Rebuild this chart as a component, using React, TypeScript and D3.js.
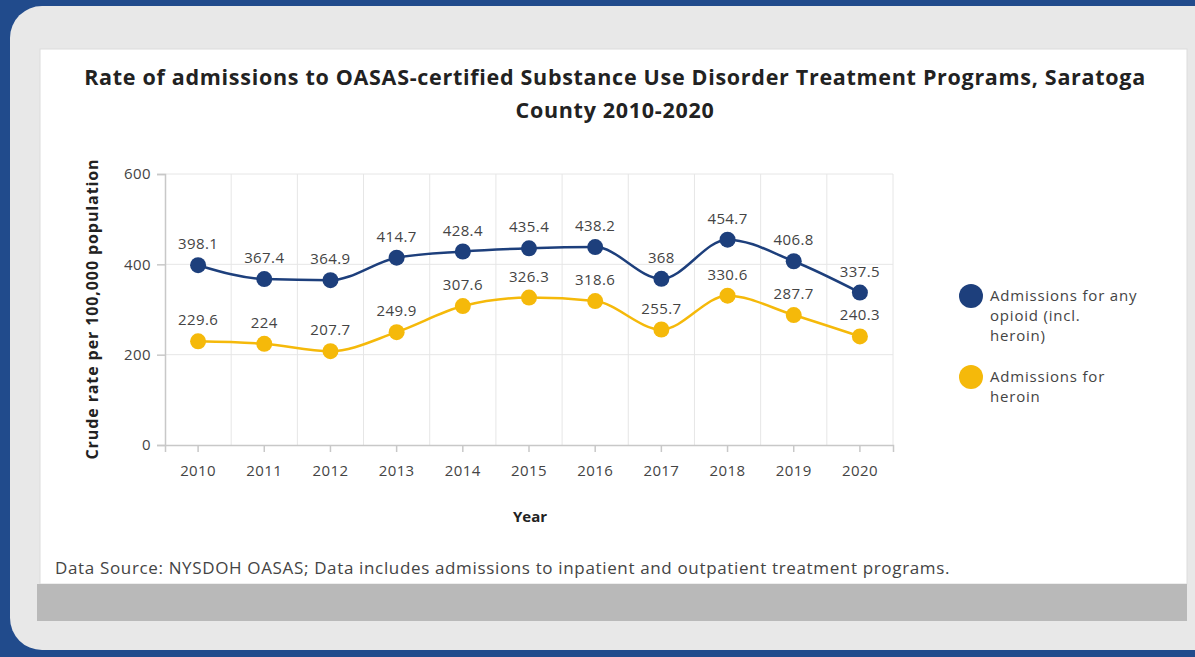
import React, { useEffect, useRef } from 'react';
import * as d3 from 'd3';

const years = ['2010', '2011', '2012', '2013', '2014', '2015', '2016', '2017', '2018', '2019', '2020'];
const anyOpioid = [398.1, 367.4, 364.9, 414.7, 428.4, 435.4, 438.2, 368, 454.7, 406.8, 337.5];
const heroin = [229.6, 224, 207.7, 249.9, 307.6, 326.3, 318.6, 255.7, 330.6, 287.7, 240.3];
const yTicks = [0, 200, 400, 600];
const seriesNames = [['Admissions for any', 'opioid (incl.', 'heroin)'], ['Admissions for', 'heroin']];
const seriesColors = ['#1d3f7c', '#f5b90a'];

const FONT = '"Open Sans", sans-serif';

export default function App() {
  const svgRef = useRef<SVGSVGElement>(null);

  useEffect(() => {
    if (!svgRef.current) return;
    const W = 1195, H = 657;
    const svg = d3.select(svgRef.current);
    svg.selectAll('*').remove();

    // page frame
    svg.append('rect').attr('width', W).attr('height', H).attr('fill', '#214b8c');
    svg.append('rect').attr('x', 10).attr('y', 6).attr('width', W + 40).attr('height', 644)
      .attr('rx', 32).attr('fill', '#e8e8e8');
    svg.append('rect').attr('x', 40).attr('y', 49).attr('width', 1147).attr('height', 535)
      .attr('fill', '#fff').attr('stroke', '#dcdcdc');
    svg.append('rect').attr('x', 37).attr('y', 584).attr('width', 1150).attr('height', 37)
      .attr('fill', '#b9b9b9');

    // title
    const title = svg.append('text').attr('text-anchor', 'middle').attr('fill', '#222')
      .style('font-family', FONT).style('font-weight', 700).style('font-size', '21.5px')
      .style('letter-spacing', '0.7px');
    title.append('tspan').attr('x', 615).attr('y', 85)
      .text('Rate of admissions to OASAS-certified Substance Use Disorder Treatment Programs, Saratoga');
    title.append('tspan').attr('x', 615).attr('y', 118).text('County 2010-2020');

    const left = 165, right = 893, top = 174, bottom = 445;
    const x = d3.scaleBand().domain(years).range([left, right]).padding(0);
    const y = d3.scaleLinear().domain([0, 600]).range([bottom, top]);
    const cx = (d: string) => (x(d) || 0) + x.bandwidth() / 2;

    // grid
    const g = svg.append('g');
    g.selectAll('.hg').data(yTicks.slice(1)).enter().append('line')
      .attr('x1', left).attr('x2', right).attr('y1', d => y(d)).attr('y2', d => y(d))
      .attr('stroke', '#e6e6e6');
    g.selectAll('.vg').data(years).enter().append('line')
      .attr('x1', (d, i) => left + (i + 1) * x.bandwidth()).attr('x2', (d, i) => left + (i + 1) * x.bandwidth())
      .attr('y1', top).attr('y2', bottom).attr('stroke', '#e6e6e6');

    // axes
    const yAxis = svg.append('g').attr('transform', `translate(${left},0)`)
      .call(d3.axisLeft(y).tickValues(yTicks).tickSize(8).tickPadding(6));
    const xAxis = svg.append('g').attr('transform', `translate(0,${bottom})`)
      .call(d3.axisBottom(x).tickSize(7).tickPadding(13));
    [yAxis, xAxis].forEach(a => {
      a.select('.domain').attr('stroke', '#c8c8c8').attr('stroke-width', 1.5);
      a.selectAll('.tick line').attr('stroke', '#c8c8c8').attr('stroke-width', 1.5);
      a.selectAll('text').attr('fill', '#444').style('font-family', FONT).style('font-size', '15px')
        .style('letter-spacing', '0.4px');
    });

    svg.append('text').attr('x', 530).attr('y', 522).attr('text-anchor', 'middle')
      .attr('fill', '#222').style('font-family', FONT).style('font-weight', 700).style('font-size', '15px')
      .text('Year');
    svg.append('text').attr('transform', `translate(98,309) rotate(-90)`).attr('text-anchor', 'middle')
      .attr('fill', '#222').style('font-family', FONT).style('font-weight', 700).style('font-size', '16px')
      .style('letter-spacing', '0.9px')
      .text('Crude rate per 100,000 population');

    // series
    const line = d3.line<number>().x((d, i) => cx(years[i])).y(d => y(d)).curve(d3.curveMonotoneX);
    [heroin, anyOpioid].forEach((vals, k) => {
      const color = seriesColors[1 - k];
      svg.append('path').datum(vals).attr('d', line).attr('fill', 'none')
        .attr('stroke', color).attr('stroke-width', 2.5);
      svg.selectAll(`.pt${k}`).data(vals).enter().append('circle')
        .attr('cx', (d, i) => cx(years[i])).attr('cy', d => y(d)).attr('r', 8).attr('fill', color);
      svg.selectAll(`.lb${k}`).data(vals).enter().append('text')
        .attr('x', (d, i) => cx(years[i])).attr('y', d => y(d) - 16).attr('text-anchor', 'middle')
        .attr('fill', '#444').style('font-family', FONT).style('font-size', '15px')
        .style('letter-spacing', '0.4px')
        .text(d => String(d));
    });

    // legend
    const legendY = [296, 377];
    seriesNames.forEach((lines, k) => {
      svg.append('circle').attr('cx', 971).attr('cy', legendY[k]).attr('r', 12).attr('fill', seriesColors[k]);
      const t = svg.append('text').attr('fill', '#444').style('font-family', FONT).style('font-size', '15px')
        .style('letter-spacing', '0.8px');
      lines.forEach((s, j) => {
        t.append('tspan').attr('x', 990).attr('y', legendY[k] + 5 + j * 20).text(s);
      });
    });

    svg.append('text').attr('x', 55).attr('y', 574).attr('fill', '#444')
      .style('font-family', FONT).style('font-size', '17px').style('letter-spacing', '0.65px')
      .text('Data Source: NYSDOH OASAS; Data includes admissions to inpatient and outpatient treatment programs.');
  }, []);

  return <svg ref={svgRef} width={1195} height={657} style={{ position: 'absolute', left: 0, top: 0 }} />;
}
